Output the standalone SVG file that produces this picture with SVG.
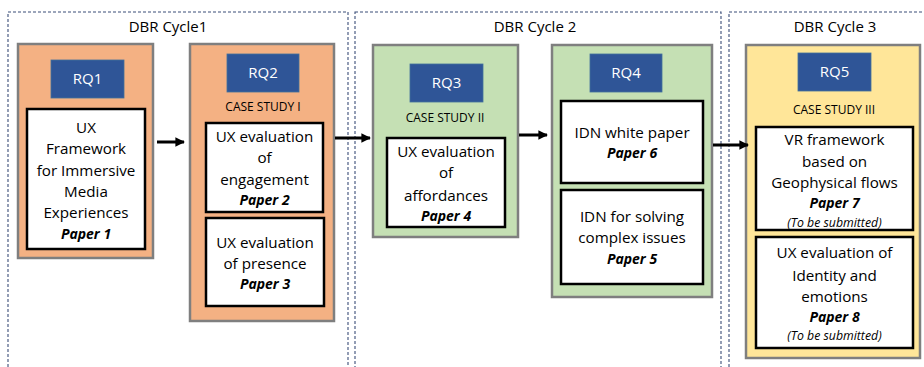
<svg xmlns="http://www.w3.org/2000/svg" width="924" height="367" viewBox="0 0 924 367">
<style>
.cycle{fill:none;stroke:#3B4E78;stroke-width:1.1;stroke-dasharray:3 2}
.ctitle{font-family:"Open Sans","Noto Sans",sans-serif;font-size:15px;fill:#000;text-anchor:middle}
.outer{stroke:#7F7F7F;stroke-width:2.5}
.orange{fill:#F4B183}
.green{fill:#C5E0B4}
.yellow{fill:#FFE699}
.rq{fill:#2F5597;stroke:#41719C;stroke-width:0.8}
.rqt{font-family:"Open Sans","Noto Sans",sans-serif;font-size:15px;fill:#fff;text-anchor:middle}
.cs{font-family:"Open Sans","Noto Sans",sans-serif;font-size:12px;fill:#000;text-anchor:middle}
.paper{fill:#fff;stroke:#000;stroke-width:2.5}
.t{font-family:"Open Sans","Noto Sans",sans-serif;font-size:15.2px;fill:#000;text-anchor:middle}
.p{font-family:"Open Sans","Noto Sans",sans-serif;font-size:14px;font-weight:bold;font-style:italic;fill:#000;text-anchor:middle}
.s{font-family:"Open Sans","Noto Sans",sans-serif;font-size:12.3px;font-style:italic;fill:#000;text-anchor:middle}
.conn{stroke:#000;stroke-width:3;fill:none}
</style>
<defs>
<marker id="ah" viewBox="0 0 10 10" refX="9" refY="5" markerWidth="3.2" markerHeight="3.2" orient="auto" markerUnits="strokeWidth">
<path d="M0,0 L10,5 L0,10 z" fill="#000"/>
</marker>
</defs>
<rect width="924" height="367" fill="#fff"/>

<g id="cycle1">
<rect class="cycle" x="8" y="12" width="340" height="370"/>
<text class="ctitle" x="168" y="32">DBR Cycle1</text>
</g>
<g id="cycle2">
<rect class="cycle" x="355" y="12" width="366" height="370"/>
<text class="ctitle" x="535" y="32">DBR Cycle 2</text>
</g>
<g id="cycle3">
<rect class="cycle" x="729" y="12" width="210" height="370"/>
<text class="ctitle" x="835" y="32">DBR Cycle 3</text>
</g>

<g id="rq1">
<rect class="outer orange" x="18" y="44" width="135" height="214"/>
<rect class="rq" x="51" y="60" width="73" height="38"/>
<text class="rqt" x="87.5" y="84">RQ1</text>
<rect class="paper" x="27" y="109" width="118" height="140"/>
<text class="t" x="86" y="133">UX</text>
<text class="t" x="86" y="154">Framework</text>
<text class="t" x="86" y="176">for Immersive</text>
<text class="t" x="86" y="197">Media</text>
<text class="t" x="86" y="218">Experiences</text>
<text class="p" x="86" y="239">Paper 1</text>
</g>

<g id="rq2">
<rect class="outer orange" x="190" y="44" width="144" height="277"/>
<rect class="rq" x="227" y="54" width="72" height="38"/>
<text class="rqt" x="263" y="78">RQ2</text>
<text class="cs" x="263" y="111">CASE STUDY I</text>
<rect class="paper" x="206" y="123" width="117" height="89"/>
<text class="t" x="264.5" y="142">UX evaluation</text>
<text class="t" x="264.5" y="163">of</text>
<text class="t" x="264.5" y="185">engagement</text>
<text class="p" x="264.5" y="205">Paper 2</text>
<rect class="paper" x="206" y="218" width="118" height="88"/>
<text class="t" x="265" y="248">UX evaluation</text>
<text class="t" x="265" y="269">of presence</text>
<text class="p" x="265" y="289">Paper 3</text>
</g>

<g id="rq3">
<rect class="outer green" x="373" y="45" width="145" height="192"/>
<rect class="rq" x="410" y="64" width="73" height="38"/>
<text class="rqt" x="446.5" y="88">RQ3</text>
<text class="cs" x="445" y="122">CASE STUDY II</text>
<rect class="paper" x="387" y="138" width="118" height="89"/>
<text class="t" x="446" y="157">UX evaluation</text>
<text class="t" x="446" y="178">of</text>
<text class="t" x="446" y="201">affordances</text>
<text class="p" x="446" y="221">Paper 4</text>
</g>

<g id="rq4">
<rect class="outer green" x="552" y="45" width="160" height="252"/>
<rect class="rq" x="590" y="54" width="72" height="38"/>
<text class="rqt" x="626" y="78">RQ4</text>
<rect class="paper" x="561" y="101" width="142" height="82"/>
<text class="t" x="632" y="138">IDN white paper</text>
<text class="p" x="632" y="158">Paper 6</text>
<rect class="paper" x="561" y="190" width="142" height="94"/>
<text class="t" x="632" y="222">IDN for solving</text>
<text class="t" x="632" y="243">complex issues</text>
<text class="p" x="632" y="264">Paper 5</text>
</g>

<g id="rq5">
<rect class="outer yellow" x="746" y="45" width="174" height="313"/>
<rect class="rq" x="798" y="53" width="73" height="38"/>
<text class="rqt" x="834.5" y="77">RQ5</text>
<text class="cs" x="834" y="114">CASE STUDY III</text>
<rect class="paper" x="756" y="127" width="157" height="103"/>
<text class="t" x="834.5" y="145">VR framework</text>
<text class="t" x="834.5" y="167">based on</text>
<text class="t" x="834.5" y="188">Geophysical flows</text>
<text class="p" x="834.5" y="208">Paper 7</text>
<text class="s" x="834.5" y="227">(To be submitted)</text>
<rect class="paper" x="756" y="237" width="157" height="111"/>
<text class="t" x="834.5" y="258">UX evaluation of</text>
<text class="t" x="834.5" y="281">Identity and</text>
<text class="t" x="834.5" y="302">emotions</text>
<text class="p" x="834.5" y="322">Paper 8</text>
<text class="s" x="834.5" y="340">(To be submitted)</text>
</g>

<g id="connectors">
<line class="conn" x1="157" y1="142" x2="184" y2="142" marker-end="url(#ah)"/>
<line class="conn" x1="335" y1="138" x2="370" y2="138" marker-end="url(#ah)"/>
<line class="conn" x1="519" y1="135" x2="547" y2="135" marker-end="url(#ah)"/>
<line class="conn" x1="713" y1="145" x2="748" y2="145" marker-end="url(#ah)"/>
</g>
</svg>
